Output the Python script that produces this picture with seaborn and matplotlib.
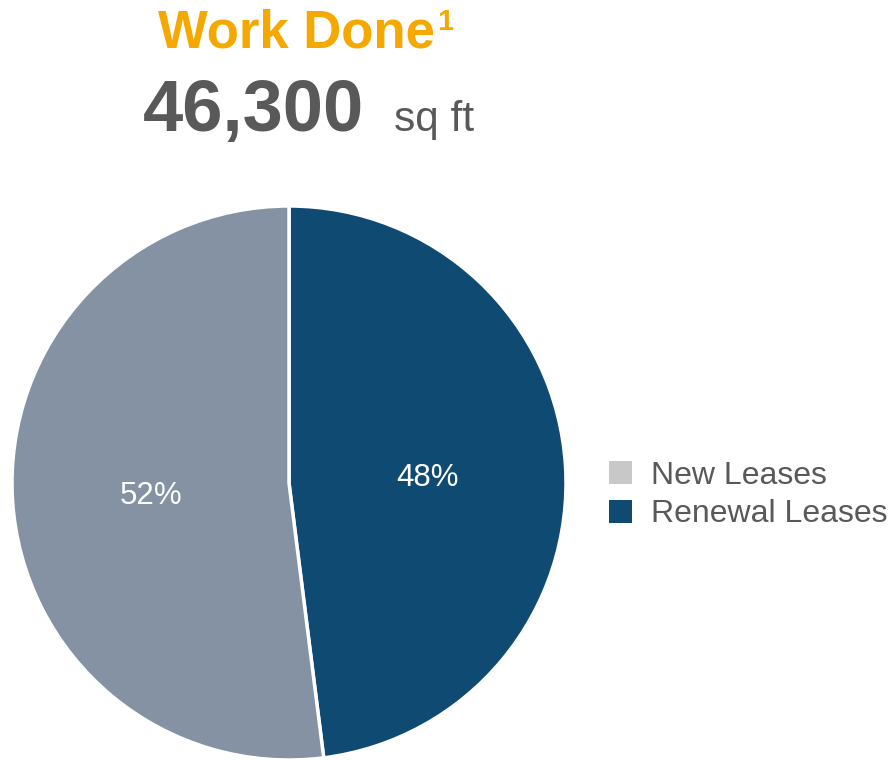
import matplotlib
matplotlib.use("Agg")
import matplotlib.pyplot as plt
import matplotlib.transforms as mtransforms
from matplotlib.patches import Patch
import seaborn as sns

# Lease mix data
categories = ["Renewal Leases", "New Leases"]
shares = [48, 52]
slice_colors = ["#0f4a73", "#8592a3"]
legend_labels = ["New Leases", "Renewal Leases"]
legend_colors = ["#c8c8c8", "#0f4a73"]
title_text = "Work Done"
title_note = "1"
total_value = "46,300"
total_unit = "sq ft"

sns.set_theme(style="white")
plt.rcParams["font.family"] = ["Liberation Sans", "DejaVu Sans"]

W, H = 892, 760
fig = plt.figure(figsize=(W / 100, H / 100), dpi=100)

# Pie placed with center at (289, 483) px
cx, cy, r = 289, 483, 277
ax = fig.add_axes([(cx - r) / W, (H - cy - r) / H, 2 * r / W, 2 * r / H])
wedges, texts, autotexts = ax.pie(
    shares,
    colors=slice_colors,
    startangle=90,
    counterclock=False,
    autopct="%d%%",
    pctdistance=0.5,
    radius=1.0,
    wedgeprops=dict(edgecolor="white", linewidth=2.5),
    textprops=dict(color="white", fontsize=22.5),
)
# nudge the percentage labels slightly downward
for t in autotexts:
    t.set_transform(mtransforms.offset_copy(ax.transData, fig=fig, x=0, y=-4, units="dots"))
ax.set_xlim(-1.0, 1.0)
ax.set_ylim(-1.0, 1.0)
ax.set_aspect("equal")
ax.axis("off")

# Legend
handles = [Patch(facecolor=c, edgecolor="none") for c in legend_colors]
fig.legend(
    handles, legend_labels,
    loc="center left", bbox_to_anchor=(609 / W, 1 - 495 / H),
    frameon=False, fontsize=23, labelcolor="#595959",
    handlelength=0.72, handleheight=0.72, handletextpad=0.6,
    labelspacing=0.28, borderpad=0.0, borderaxespad=0.0,
)

# Headline text
fig.canvas.draw()
renderer = fig.canvas.get_renderer()
orange = "#f5a800"
gray = "#595959"

t1 = fig.text(158 / W, 1 - 48 / H, title_text, fontsize=38, fontweight="bold",
              color=orange, ha="left", va="baseline")
t1s = fig.text(0, 1 - 30 / H, title_note, fontsize=21, fontweight="bold",
               color=orange, ha="left", va="baseline")
w1 = t1.get_window_extent(renderer).width
t1s.set_x((158 + w1 + 2) / W)

t2 = fig.text(143 / W, 1 - 131 / H, total_value, fontsize=52, fontweight="bold",
              color=gray, ha="left", va="baseline")
w2 = t2.get_window_extent(renderer).width
t3 = fig.text((143 + w2 + 30) / W, 1 - 131 / H, total_unit, fontsize=30.5,
              color=gray, ha="left", va="baseline")

fig.savefig("out.png", dpi=100)
